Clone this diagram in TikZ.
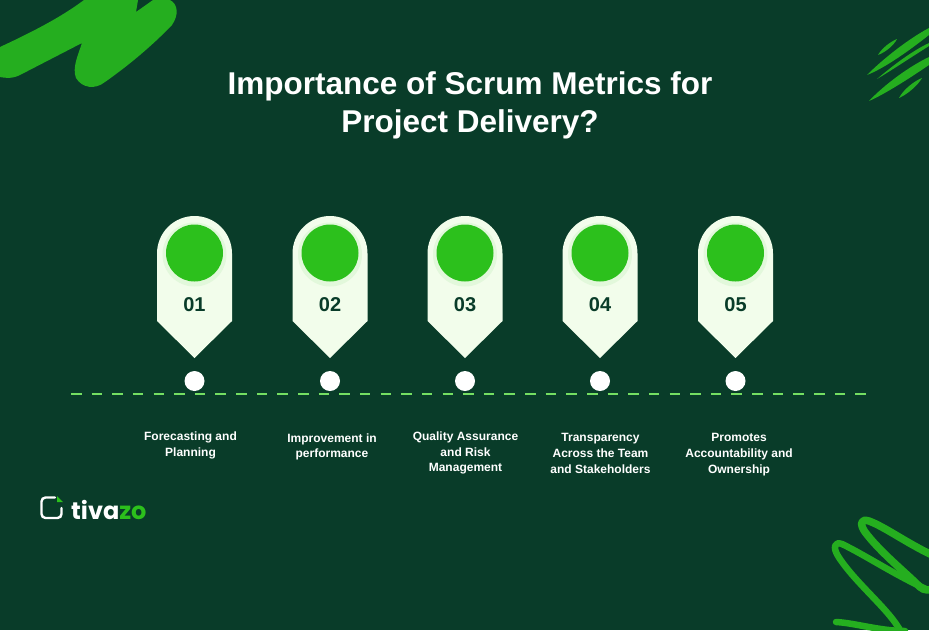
\documentclass[tikz,border=0pt]{standalone}
\usepackage{fontspec}
\setmainfont{Liberation Sans}
\newfontfamily\logofont{Poppins}
\usepackage{tikz}
\definecolor{bgdark}{HTML}{093C29}
\definecolor{splash}{HTML}{25AE1F}
\definecolor{leaf}{HTML}{2CC01C}
\definecolor{pale}{HTML}{F2FDEB}
\definecolor{dashgreen}{HTML}{74DE62}
\definecolor{numdark}{HTML}{093C29}
\begin{document}
\begin{tikzpicture}[
    x=1pt,
    y=-1pt,
    pin/.style={
      fill=pale,
      draw=none
      },
    disc/.style={
      circle,
      fill=leaf,
      minimum size=57pt,
      inner sep=0pt
      },
    dot/.style={
      circle,
      fill=white,
      minimum size=20pt,
      inner sep=0pt
      },
    number/.style={
      text=numdark,
      font=\bfseries\fontsize{20}{20}\selectfont
      },
    caption/.style={
      text=white,
      align=center,
      font=\bfseries\fontsize{12}{15.7}\selectfont
      },
    streak/.style={
      fill=splash,
      draw=none
      }
    ]
    \fill[bgdark] (0,0) rectangle (929,630);
    \useasboundingbox (0,0) rectangle (929,630);
    % top left brush
    \fill[splash] (0,47) .. controls (30,33) and (60,18) .. (84,0) -- (138,0) -- (136,12) -- (153,0) -- (170,0)
      .. controls (178,4) and (179,15) .. (172,25) .. controls (150,48) and (125,68) .. (105,82)
      .. controls (95,90) and (82,88) .. (76,78) .. controls (72,68) and (78,55) .. (82,43)
      -- (20,75) .. controls (12,79) and (5,78) .. (0,77) -- cycle;
    % top right streaks
    \fill[streak] (867,75) .. controls (885,57) and (910,38) .. (929,28) -- (929,35) .. controls (910,50) and (885,68) .. cycle;
    \fill[streak] (877,79) .. controls (890,68) and (910,52) .. (929,43) -- (929,46) .. controls (910,58) and (892,70) .. cycle;
    \fill[streak] (869,101) .. controls (885,84) and (910,66) .. (929,57) -- (929,65) .. controls (910,78) and (885,94) .. cycle;
    \fill[streak] (878,55) .. controls (882,48) and (890,42) .. (897,39) .. controls (894,45) and (886,52) .. cycle;
    \fill[streak] (899,98) .. controls (903,90) and (914,81) .. (922,78) .. controls (918,85) and (908,94) .. cycle;
    % bottom right squiggle
    \draw[splash,line width=7.5pt,line cap=round,line join=round]
      (932,555) .. controls (905,542) and (885,527) .. (869,521) .. controls (860,518) and (860,525) .. (865,532)
      .. controls (880,552) and (905,572) .. (920,587) .. controls (924,591) and (930,590) .. (932,589);
    \draw[splash,line width=6.5pt,line cap=round,line join=round]
      (926,589) .. controls (895,575) and (865,555) .. (842,544) .. controls (834,541) and (833,548) .. (838,556)
      .. controls (855,583) and (890,610) .. (901,632);
    \draw[splash,line width=6.5pt,line cap=round] (836,622) .. controls (855,623) and (880,631) .. (905,631);
    % title
    \node[text=white,align=center,font=\bfseries\fontsize{31.5}{38}\selectfont] (title) at (470,105)
      {Importance of Scrum Metrics for\\Project Delivery?};
    % timeline
    \coordinate (lineleft) at (71,394);
    \coordinate (lineright) at (866,394);
    \draw[dashgreen,line width=1.4pt,dash pattern=on 10.5pt off 10.14pt] (lineleft) -- (lineright);
    % pins
    \foreach \px/\pn in {194.5/01,330/02,465/03,600/04,735.5/05}
    {
      \fill[pin] (\px-37.5,253.5) arc[start angle=180,end angle=360,radius=37.5]
        -- (\px+37.5,321) -- (\px,358) -- (\px-37.5,321) -- cycle;
      \fill[leaf!8!pale] (\px,254.5) circle (32);
      \node[disc] (disc-\pn) at (\px,253) {};
      \node[number] (num-\pn) at (\px,305) {\pn};
      \node[dot] (dot-\pn) at (\px,381) {};
    }
    % captions
    \node[caption] (cap-01) at (190.5,445.5) {Forecasting and\\Planning};
    \node[caption] (cap-02) at (332,447) {Improvement in\\performance};
    \node[caption] (cap-03) at (465.5,453) {Quality Assurance\\and Risk\\Management};
    \node[caption] (cap-04) at (600.5,453.5) {Transparency\\Across the Team\\and Stakeholders};
    \node[caption] (cap-05) at (739,454.5) {Promotes\\Accountability and\\Ownership};
    % logo
    \draw[white,line width=2.4pt,line cap=round,rounded corners=4pt]
      (55,497.5) -- (41.5,497.5) -- (41.5,518) -- (61.5,518) -- (61.5,508);
    \fill[leaf] (57,496) -- (57,502) -- (63,502) -- cycle;
    \node[anchor=west,inner sep=0pt,font=\logofont\bfseries\fontsize{24}{24}\selectfont] (logo) at (71,510)
      {\textcolor{white}{tiva}\textcolor{leaf}{zo}};
\end{tikzpicture}
\end{document}
